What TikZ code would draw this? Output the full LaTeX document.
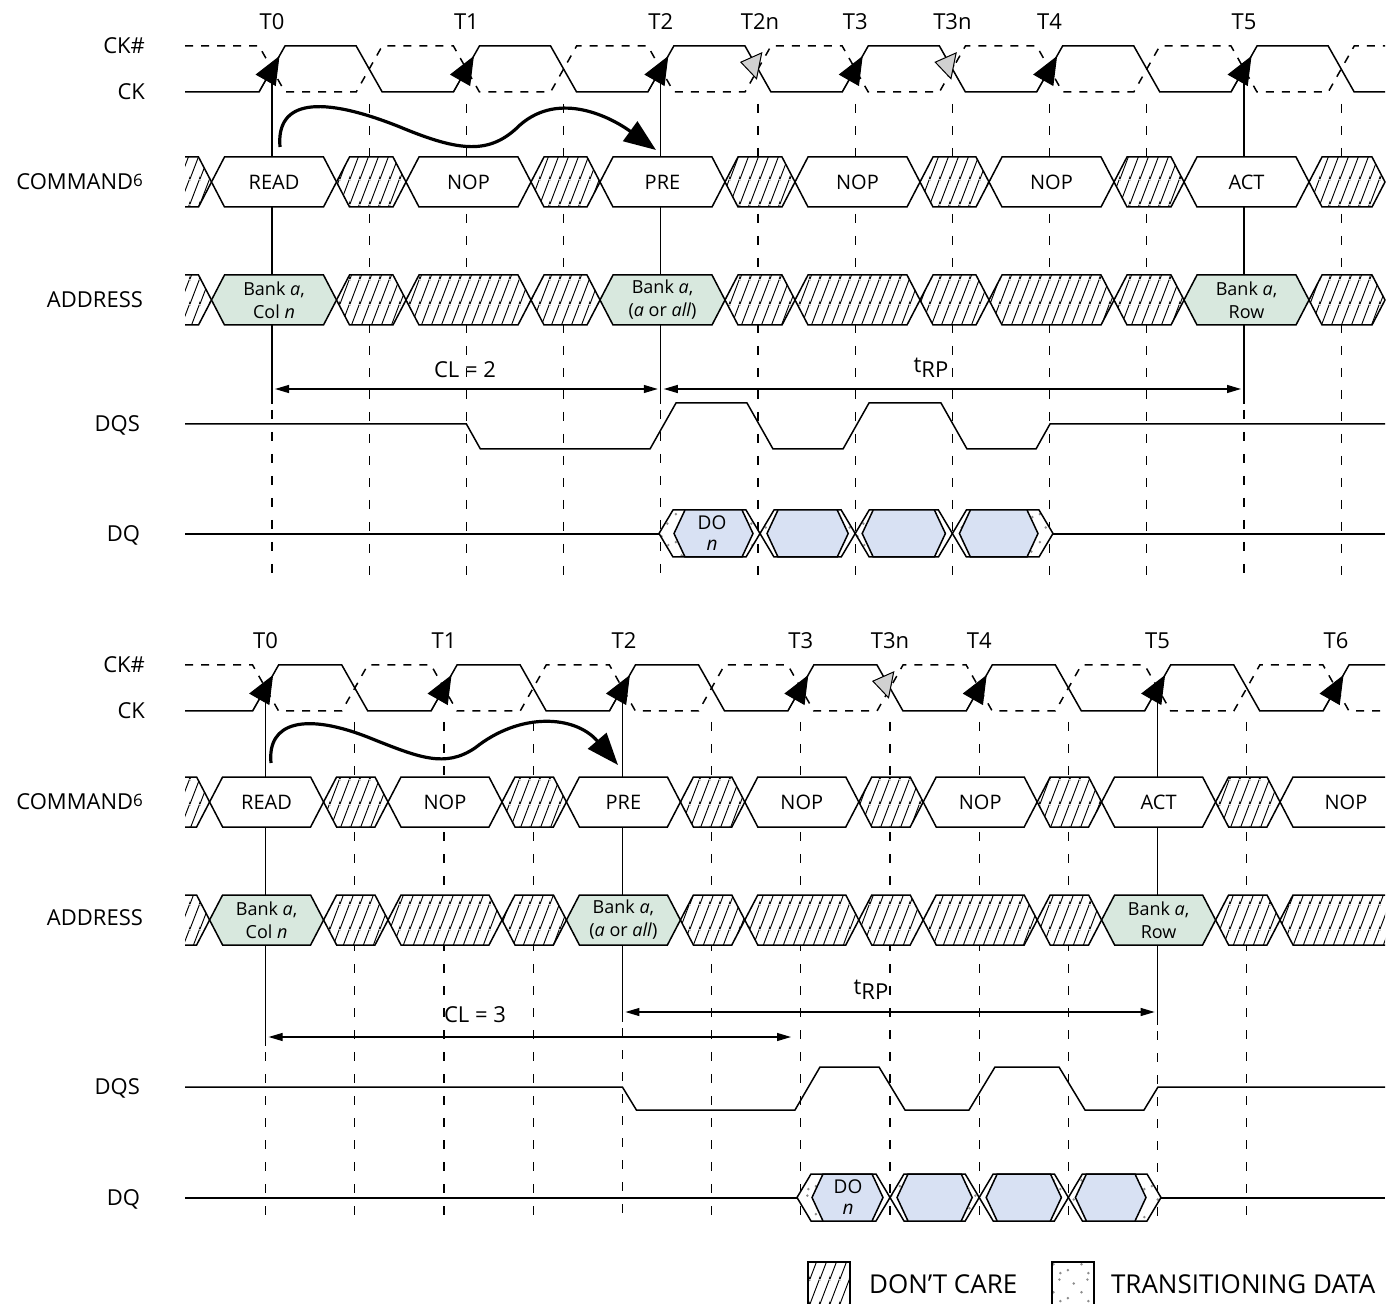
\documentclass[tikz,border=0pt]{standalone}
\usepackage{fontspec}
\setmainfont{Open Sans}
\usetikzlibrary{arrows.meta,patterns}

\definecolor{addrgreen}{RGB}{216,232,222}
\definecolor{dqblue}{RGB}{216,225,243}

% hatching for don't care, dots for transitioning data
\pgfdeclarepatternformonly{dontcare}{\pgfqpoint{0pt}{0pt}}{\pgfqpoint{5pt}{12.5pt}}{\pgfqpoint{5pt}{12.5pt}}{%
  \pgfsetlinewidth{0.5pt}%
  \pgfpathmoveto{\pgfqpoint{-5pt}{0pt}}\pgfpathlineto{\pgfqpoint{0pt}{12.5pt}}%
  \pgfpathmoveto{\pgfqpoint{0pt}{0pt}}\pgfpathlineto{\pgfqpoint{5pt}{12.5pt}}%
  \pgfpathmoveto{\pgfqpoint{5pt}{0pt}}\pgfpathlineto{\pgfqpoint{10pt}{12.5pt}}%
  \pgfusepath{stroke}}
\pgfdeclarepatternformonly{transdots}{\pgfqpoint{0pt}{0pt}}{\pgfqpoint{14pt}{14pt}}{\pgfqpoint{14pt}{14pt}}{%
  \pgfpathcircle{\pgfqpoint{2pt}{3pt}}{0.7pt}%
  \pgfpathcircle{\pgfqpoint{9pt}{6pt}}{0.7pt}%
  \pgfpathcircle{\pgfqpoint{5pt}{10.5pt}}{0.7pt}%
  \pgfpathcircle{\pgfqpoint{12pt}{12.5pt}}{0.7pt}%
  \pgfpathcircle{\pgfqpoint{12.5pt}{1.5pt}}{0.7pt}%
  \pgfusepath{fill}}

\tikzset{
  sig/.style={line width=0.75pt},
  clkn/.style={line width=0.75pt,dash pattern=on 4pt off 4pt},
  guideline/.style={line width=0.6pt,dash pattern=on 4.5pt off 6.5pt},
  refline/.style={line width=0.6pt},
  dontcell/.style={preaction={fill=white},preaction={pattern=dontcare},draw,line width=0.75pt},
  cmdcell/.style={fill=white,draw,line width=0.75pt},
  addrcell/.style={fill=addrgreen,draw,line width=0.75pt},
  transcell/.style={preaction={fill=white},preaction={pattern=transdots,pattern color=black!45},draw,line width=0.75pt},
  datacell/.style={fill=dqblue,draw,line width=0.75pt},
  siglbl/.style={font=\fontsize{11}{13}\selectfont,anchor=base east},
  ticklbl/.style={font=\fontsize{11}{13}\selectfont},
  celltxt/.style={font=\fontsize{10}{12}\selectfont},
  banktxt/.style={font=\fontsize{9}{11.5}\selectfont,align=center,inner sep=0pt},
  dotxt/.style={font=\fontsize{9.5}{10.5}\selectfont,align=center,inner sep=0pt},
  legtxt/.style={font=\fontsize{13}{15}\selectfont,anchor=west},
  upedge/.style={line width=0.5pt,-{Triangle[length=14pt,width=11.5pt]}},
  dnedge/.style={line width=0.5pt,-{Triangle[length=10pt,width=14pt,fill=black!18]}},
  cspan/.style={line width=0.6pt,shorten <=1.5pt,shorten >=1.5pt,
    {Triangle[length=7pt,width=4pt]}-{Triangle[length=7pt,width=4pt]}},
  sweeparrow/.style={line width=1.6pt,-{Triangle[length=16pt,width=12pt]}}
}

% hexagon bus cell: style, left, right, mid y
\newcommand{\hexcell}[4]{%
  \path[#1] (#2,#4) -- ({#2+13},{#4-25}) -- ({#3-13},{#4-25}) -- (#3,#4)
    -- ({#3-13},{#4+25}) -- ({#2+13},{#4+25}) -- cycle;}
% data out cell: left, right, left inset, right inset, mid y
\newcommand{\dqcell}[5]{%
  \path[transcell] (#1,#5) -- ({#1+14},{#5-23.5}) -- ({#2-14},{#5-23.5}) -- (#2,#5)
    -- ({#2-14},{#5+23.5}) -- ({#1+14},{#5+23.5}) -- cycle;
  \path[datacell] ({#1+#3},#5) -- ({#1+#3+11},{#5-23.5}) -- ({#2-#4-11},{#5-23.5}) -- ({#2-#4},#5)
    -- ({#2-#4-11},{#5+23.5}) -- ({#1+#3+11},{#5+23.5}) -- cycle;}

\begin{document}
\begin{tikzpicture}[x=0.5pt,y=-0.5pt]
\useasboundingbox (0,0) rectangle (1398,1304);

%%%%% CL = 2
\foreach \x in {369.2,466.4,563.6,758,855.2,952.4,1049.6,1146.8,1341.2}
  \draw[guideline] (\x,104) -- (\x,578);
\foreach \x in {272,660.8,1244} {
  \draw[guideline] (\x,410) -- (\x,578);
  \draw[refline] (\x,80) -- (\x,404);
}

\begin{scope}
  \clip (185,0) rectangle (1385,120);
  \draw[sig] (185,92) \foreach \k in {0,...,5} {
    -- ({272+194.4*\k-13},92) -- ({272+194.4*\k+13},46)
    -- ({369.2+194.4*\k-13},46) -- ({369.2+194.4*\k+13},92)} -- (1400,92);
  \draw[clkn] (185,46) \foreach \k in {0,...,5} {
    -- ({272+194.4*\k-13},46) -- ({272+194.4*\k+13},92)
    -- ({369.2+194.4*\k-13},92) -- ({369.2+194.4*\k+13},46)} -- (1400,46);
\end{scope}
\foreach \k in {0,...,5}
  \draw[upedge] ({272+194.4*\k-13},92) -- ({272+194.4*\k+7.5},56);
\foreach \x in {758,952.4}
  \draw[dnedge] ({\x+2},66) -- ({\x-18},62);

\node[ticklbl] (tA0) at (272,22) {T0};
\node[ticklbl] (tA1) at (466.4,22) {T1};
\node[ticklbl] (tA2) at (660.8,22) {T2};
\node[ticklbl] (tA2n) at (760,22) {T2n};
\node[ticklbl] (tA3) at (855.2,22) {T3};
\node[ticklbl] (tA3n) at (952.4,22) {T3n};
\node[ticklbl] (tA4) at (1049.6,22) {T4};
\node[ticklbl] (tA5) at (1244,22) {T5};

\node[siglbl] (ckhA) at (152,53.5) {CK\#};
\node[siglbl] (ckA) at (152,99.5) {CK};
\node[siglbl] (cmdA) at (150,189.5) {COMMAND\raisebox{1.5pt}{\fontsize{8.5}{9}\selectfont 6}};
\node[siglbl] (addrA) at (150,307.5) {ADDRESS};
\node[siglbl] (dqsA) at (147,431.5) {DQS};
\node[siglbl] (dqA) at (147,541.5) {DQ};

% command bus
\path[dontcell] (185,157) -- (198.5,157) -- (211.5,182) -- (198.5,207) -- (185,207);
\foreach \l/\r in {336.5/406,531/600,725/795,920/989,1114/1184,1309/1385}
  \hexcell{dontcell}{\l}{\r}{182};
\foreach \l/\r in {211.5/336.5,406/531,600/725,795/920,989/1114,1184/1309}
  \hexcell{cmdcell}{\l}{\r}{182};
\node[celltxt] (readA) at (274,182) {READ};
\node[celltxt] (nopA1) at (468.5,182) {NOP};
\node[celltxt] (preA) at (662.5,182) {PRE};
\node[celltxt] (nopA2) at (857.5,182) {NOP};
\node[celltxt] (nopA3) at (1051.5,182) {NOP};
\node[celltxt] (actA) at (1246.5,182) {ACT};

% address bus
\path[dontcell] (185,275) -- (198.5,275) -- (211.5,300) -- (198.5,325) -- (185,325);
\foreach \l/\r in {336.5/406,406/531,531/600,725/795,795/920,920/989,989/1114,1114/1184,1309/1385}
  \hexcell{dontcell}{\l}{\r}{300};
\foreach \l/\r in {211.5/336.5,600/725,1184/1309}
  \hexcell{addrcell}{\l}{\r}{300};
\node[banktxt] (colA) at (274,300) {Bank \textit{a},\\Col \textit{n}};
\node[banktxt] (bankA) at (662.5,300) {Bank \textit{a},\\(\textit{a} or \textit{all})};
\node[banktxt] (rowA) at (1246.5,300) {Bank \textit{a},\\Row};

% latency
\coordinate (clA0) at (272,389);
\coordinate (clA1) at (660.8,389);
\coordinate (rpA1) at (1244,389);
\draw[cspan] (clA0) -- (clA1);
\draw[cspan] (clA1) -- (rpA1);
\node[ticklbl] (clAt) at (465,370) {CL = 2};
\node[ticklbl] (rpAt) at (931,368) {t\raisebox{-2.5pt}{RP}};

\coordinate (swA0) at (280,147);
\coordinate (swA1) at (656,150);
\draw[sweeparrow] (swA0) .. controls (276,100) and (320,95) .. (400,127)
  .. controls (460,152) and (490,155) .. (520,125)
  .. controls (560,90) and (612,118) .. (swA1);

% strobe and data
\draw[sig] (185,424) -- (466.4,424) -- (480.4,449) -- (650,449) -- (676,403) -- (747,403)
  -- (773,449) -- (843,449) -- (869,403) -- (941,403) -- (967,449) -- (1036,449)
  -- (1050,424) -- (1385,424);
\draw[sig] (185,534) -- (659,534);
\draw[sig] (1053,534) -- (1385,534);
\dqcell{659}{760}{15}{7}{533.5}
\dqcell{760}{855.2}{7}{7}{533.5}
\dqcell{855.2}{952.4}{7}{7}{533.5}
\dqcell{952.4}{1053}{7}{15}{533.5}
\node[dotxt] (doA) at (712,533.5) {DO\\\textit{n}};

%%%%% CL = 3
\foreach \x in {354.8,444,533.2,711.6,800.8,890,979.2,1068.4,1246.8}
  \draw[guideline] (\x,722) -- (\x,1217);
\draw[refline] (265.6,699) -- (265.6,1046);
\draw[refline] (622.4,699) -- (622.4,1022);
\draw[refline] (1157.6,699) -- (1157.6,1025);
\draw[guideline] (265.6,1052) -- (265.6,1217);
\draw[guideline] (622.4,1028) -- (622.4,1217);
\draw[guideline] (1157.6,1031) -- (1157.6,1217);

\begin{scope}
  \clip (185,600) rectangle (1385,740);
  \draw[sig] (185,711) \foreach \k in {0,...,6} {
    -- ({265.6+178.4*\k-13},711) -- ({265.6+178.4*\k+13},665)
    -- ({354.8+178.4*\k-13},665) -- ({354.8+178.4*\k+13},711)};
  \draw[clkn] (185,665) \foreach \k in {0,...,6} {
    -- ({265.6+178.4*\k-13},665) -- ({265.6+178.4*\k+13},711)
    -- ({354.8+178.4*\k-13},711) -- ({354.8+178.4*\k+13},665)};
\end{scope}
\foreach \k in {0,...,6}
  \draw[upedge] ({265.6+178.4*\k-13},711) -- ({265.6+178.4*\k+7.5},675);
\draw[dnedge] (892,685) -- (872,681);

\node[ticklbl] (tB0) at (265.6,641) {T0};
\node[ticklbl] (tB1) at (444,641) {T1};
\node[ticklbl] (tB2) at (624,641) {T2};
\node[ticklbl] (tB3) at (800.8,641) {T3};
\node[ticklbl] (tB3n) at (890,641) {T3n};
\node[ticklbl] (tB4) at (979.2,641) {T4};
\node[ticklbl] (tB5) at (1157.6,641) {T5};
\node[ticklbl] (tB6) at (1336,641) {T6};

\node[siglbl] (ckhB) at (152,672.5) {CK\#};
\node[siglbl] (ckB) at (152,718.5) {CK};
\node[siglbl] (cmdB) at (150,809.5) {COMMAND\raisebox{1.5pt}{\fontsize{8.5}{9}\selectfont 6}};
\node[siglbl] (addrB) at (150,925.5) {ADDRESS};
\node[siglbl] (dqsB) at (147,1094.5) {DQS};
\node[siglbl] (dqB) at (147,1205.5) {DQ};

% command bus
\path[dontcell] (185,777) -- (196.6,777) -- (209.6,802) -- (196.6,827) -- (185,827);
\foreach \l/\r in {323.6/388,502/566.4,680.4/744.8,858.8/923.2,1037.2/1101.6,1215.6/1280}
  \hexcell{dontcell}{\l}{\r}{802};
\foreach \l/\r in {209.6/323.6,388/502,566.4/680.4,744.8/858.8,923.2/1037.2,1101.6/1215.6}
  \hexcell{cmdcell}{\l}{\r}{802};
\path[cmdcell] (1385,777) -- (1293,777) -- (1280,802) -- (1293,827) -- (1385,827);
\node[celltxt] (readB) at (266.6,802) {READ};
\node[celltxt] (nopB1) at (445,802) {NOP};
\node[celltxt] (preB) at (623.4,802) {PRE};
\node[celltxt] (nopB2) at (801.8,802) {NOP};
\node[celltxt] (nopB3) at (980.2,802) {NOP};
\node[celltxt] (actB) at (1158.6,802) {ACT};
\node[celltxt] (nopB4) at (1346,802) {NOP};

% address bus
\path[dontcell] (185,895) -- (196.6,895) -- (209.6,920) -- (196.6,945) -- (185,945);
\foreach \l/\r in {323.6/388,388/502,502/566.4,680.4/744.8,744.8/858.8,858.8/923.2,923.2/1037.2,1037.2/1101.6,1215.6/1280}
  \hexcell{dontcell}{\l}{\r}{920};
\foreach \l/\r in {209.6/323.6,566.4/680.4,1101.6/1215.6}
  \hexcell{addrcell}{\l}{\r}{920};
\path[dontcell] (1385,895) -- (1293,895) -- (1280,920) -- (1293,945) -- (1385,945);
\node[banktxt] (colB) at (266.6,920) {Bank \textit{a},\\Col \textit{n}};
\node[banktxt] (bankB) at (623.4,920) {Bank \textit{a},\\(\textit{a} or \textit{all})};
\node[banktxt] (rowB) at (1158.6,920) {Bank \textit{a},\\Row};

% latency
\coordinate (rpB0) at (622.4,1012);
\coordinate (rpB1) at (1157.6,1012);
\coordinate (clB0) at (265.6,1037);
\coordinate (clB1) at (794,1037);
\draw[cspan] (rpB0) -- (rpB1);
\draw[cspan] (clB0) -- (clB1);
\node[ticklbl] (clBt) at (475,1015) {CL = 3};
\node[ticklbl] (rpBt) at (871,990) {t\raisebox{-2.5pt}{RP}};

\coordinate (swB0) at (271,763);
\coordinate (swB1) at (618,765);
\draw[sweeparrow] (swB0) .. controls (267,722) and (305,712) .. (370,738)
  .. controls (420,758) and (445,768) .. (475,748)
  .. controls (520,712) and (575,715) .. (swB1);

% strobe and data
\draw[sig] (185,1087) -- (622.4,1087) -- (636.4,1110) -- (795,1110) -- (820,1067) -- (879,1067)
  -- (905,1110) -- (969,1110) -- (995,1067) -- (1059,1067) -- (1085,1110) -- (1144,1110)
  -- (1158,1087) -- (1385,1087);
\draw[sig] (185,1198) -- (797,1198);
\draw[sig] (1161,1198) -- (1385,1198);
\dqcell{797}{890}{15}{7}{1197.5}
\dqcell{890}{979.2}{7}{7}{1197.5}
\dqcell{979.2}{1068.4}{7}{7}{1197.5}
\dqcell{1068.4}{1161}{7}{15}{1197.5}
\node[dotxt] (doB) at (848,1197.5) {DO\\\textit{n}};

% legend
\path[dontcell] (808,1262) rectangle (850,1306);
\node[legtxt] (dcLeg) at (862,1284) {DON'T CARE};
\path[transcell] (1052,1262) rectangle (1094,1306);
\node[legtxt] (trLeg) at (1104,1284) {TRANSITIONING DATA};
\end{tikzpicture}
\end{document}
